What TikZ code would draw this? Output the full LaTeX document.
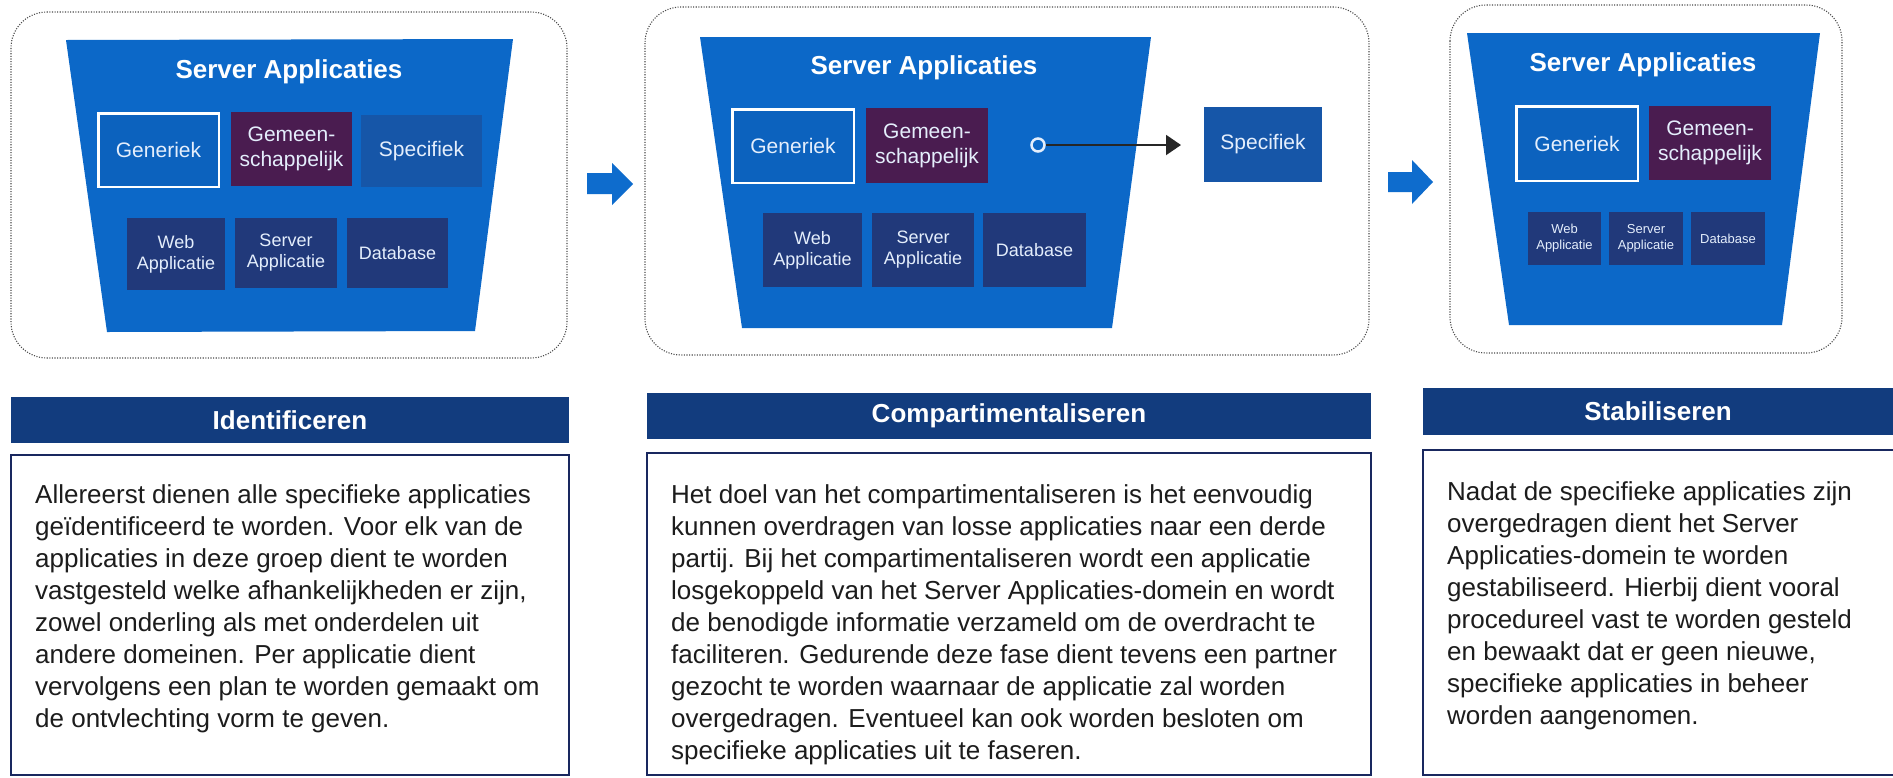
\documentclass[tikz,border=0pt]{standalone}
\usepackage{fontspec}
\setmainfont{Liberation Sans}
\usetikzlibrary{arrows.meta}
\definecolor{trapblue}{RGB}{12,104,200}
\definecolor{genblue}{RGB}{12,98,190}
\definecolor{specblue}{RGB}{22,86,168}
\definecolor{navybox}{RGB}{33,57,122}
\definecolor{purplebox}{RGB}{74,28,80}
\definecolor{hdrblue}{RGB}{18,60,126}
\definecolor{tborder}{RGB}{25,40,95}
\definecolor{boxtext}{RGB}{228,238,252}
\definecolor{bodytext}{RGB}{28,28,28}
\definecolor{arrowblue}{RGB}{14,108,205}
\begin{document}
\begin{tikzpicture}[x=1pt,y=-1pt,
  panel/.style={draw=black!70, line width=1.1pt, dash pattern=on 1.1pt off 1.5pt, rounded corners=36pt},
  trap/.style={fill=trapblue},
  boxbase/.style={inner sep=0pt, align=center, text=boxtext},
  genbox/.style={boxbase, fill=genblue, draw=white, line width=2.5pt, font=\fontsize{21}{25}\selectfont},
  gembox/.style={boxbase, fill=purplebox, font=\fontsize{21}{25}\selectfont},
  specbox/.style={boxbase, fill=specblue, font=\fontsize{21}{25}\selectfont},
  appbox/.style={boxbase, fill=navybox, font=\fontsize{18}{21}\selectfont},
  smallapp/.style={boxbase, fill=navybox, font=\fontsize{13}{16}\selectfont},
  titletxt/.style={inner sep=0pt, text=white, font=\bfseries\fontsize{26}{30}\selectfont},
  hdr/.style={fill=hdrblue, inner sep=0pt, text=white, font=\bfseries\fontsize{26}{30}\selectfont},
  tbox/.style={draw=tborder, line width=2pt, fill=white},
  body/.style={inner sep=0pt, anchor=north west, align=left, text=bodytext, font=\fontsize{26}{32}\selectfont},
  bigarrow/.style={fill=arrowblue},
  ring/.style={circle, draw=boxtext, line width=2.5pt, minimum size=13pt, inner sep=0pt},
  link/.style={draw=black!85, line width=2pt, -{Triangle[length=15pt,width=20pt]}}
]
\clip (0,0) rectangle (1893,777);
\fill[white] (0,0) rectangle (1893,777);

% ---------- panel 1 ----------
\draw[panel] (11,12) rectangle (567,358);
\fill[trap] (66,40) -- (513,39) -- (475,331) -- (107,332) -- cycle;
\node[titletxt] (t1) at (289,72) {Server Applicaties};
\node[genbox, minimum width=120.5, minimum height=73.5] (g1) at (158.5,150) {Generiek};
\node[gembox, minimum width=121, minimum height=74] (m1) at (291.5,149) {Gemeen-\\schappelijk};
\node[specbox, minimum width=121, minimum height=72] (s1) at (421.5,151) {Specifiek};
\node[appbox, minimum width=98, minimum height=72] (w1) at (176,254) {Web\\Applicatie};
\node[appbox, minimum width=102, minimum height=70] (sv1) at (286,253) {Server\\Applicatie};
\node[appbox, minimum width=101, minimum height=70] (d1) at (397.5,253) {Database};

% arrow 1
\fill[bigarrow] (587,173) -- (612,173) -- (612,163) -- (633,184) -- (612,205) -- (612,194) -- (587,194) -- cycle;

% ---------- panel 2 ----------
\draw[panel] (645,7) rectangle (1369,355);
\fill[trap] (700,37) -- (1151,37) -- (1112,328) -- (742,328) -- cycle;
\node[titletxt] (t2) at (924,68) {Server Applicaties};
\node[genbox, minimum width=121.5, minimum height=73.5] (g2) at (793,146) {Generiek};
\node[gembox, minimum width=122, minimum height=75] (m2) at (927,145.5) {Gemeen-\\schappelijk};
\node[ring] (c2) at (1038,145) {};
\node[specbox, minimum width=118, minimum height=75] (s2) at (1263,144.5) {Specifiek};
\coordinate (tip2) at (1181,145);
\draw[link] (c2.east) -- (tip2);
\node[appbox, minimum width=99, minimum height=74] (w2) at (812.5,250) {Web\\Applicatie};
\node[appbox, minimum width=102, minimum height=74] (sv2) at (923,250) {Server\\Applicatie};
\node[appbox, minimum width=103, minimum height=74] (d2) at (1034.5,250) {Database};

% arrow 2
\fill[bigarrow] (1388,172) -- (1412,172) -- (1412,160) -- (1433,182) -- (1412,204) -- (1412,192) -- (1388,192) -- cycle;

% ---------- panel 3 ----------
\draw[panel] (1450,5) rectangle (1842,353);
\fill[trap] (1467,33) -- (1820,33) -- (1782,325) -- (1509,325) -- cycle;
\node[titletxt] (t3) at (1643,65) {Server Applicaties};
\node[genbox, minimum width=121.5, minimum height=74.5] (g3) at (1577,143.5) {Generiek};
\node[gembox, minimum width=122, minimum height=74] (m3) at (1710,143) {Gemeen-\\schappelijk};
\node[smallapp, minimum width=73, minimum height=53] (w3) at (1564.5,238.5) {Web\\Applicatie};
\node[smallapp, minimum width=74, minimum height=53] (sv3) at (1646,238.5) {Server\\Applicatie};
\node[smallapp, minimum width=74, minimum height=53] (d3) at (1728,238.5) {Database};

% ---------- headers ----------
\node[hdr, minimum width=558, minimum height=46] (h1) at (290,420) {Identificeren};
\node[hdr, minimum width=724, minimum height=46] (h2) at (1009,416) {Compartimentaliseren};
\node[hdr, minimum width=470, minimum height=47] (h3) at (1658,411.5) {Stabiliseren};

% ---------- text boxes ----------
\draw[tbox] (11,455) rectangle (569,775);
\draw[tbox] (647,453) rectangle (1371,775);
\draw[tbox] (1423,450) rectangle (1905,775);

\node[body] (b1) at (35,483) {\rule{0pt}{20pt}Allereerst dienen alle specifieke applicaties\\
ge\"identificeerd te worden. Voor elk van de\\
applicaties in deze groep dient te worden\\
vastgesteld welke afhankelijkheden er zijn,\\
zowel onderling als met onderdelen uit\\
andere domeinen. Per applicatie dient\\
vervolgens een plan te worden gemaakt om\\
de ontvlechting vorm te geven.};

\node[body] (b2) at (671,483) {\rule{0pt}{20pt}Het doel van het compartimentaliseren is het eenvoudig\\
kunnen overdragen van losse applicaties naar een derde\\
partij. Bij het compartimentaliseren wordt een applicatie\\
losgekoppeld van het Server Applicaties-domein en wordt\\
de benodigde informatie verzameld om de overdracht te\\
faciliteren. Gedurende deze fase dient tevens een partner\\
gezocht te worden waarnaar de applicatie zal worden\\
overgedragen. Eventueel kan ook worden besloten om\\
specifieke applicaties uit te faseren.};

\node[body] (b3) at (1447,480) {\rule{0pt}{20pt}Nadat de specifieke applicaties zijn\\
overgedragen dient het Server\\
Applicaties-domein te worden\\
gestabiliseerd. Hierbij dient vooral\\
procedureel vast te worden gesteld\\
en bewaakt dat er geen nieuwe,\\
specifieke applicaties in beheer\\
worden aangenomen.};
\end{tikzpicture}
\end{document}
